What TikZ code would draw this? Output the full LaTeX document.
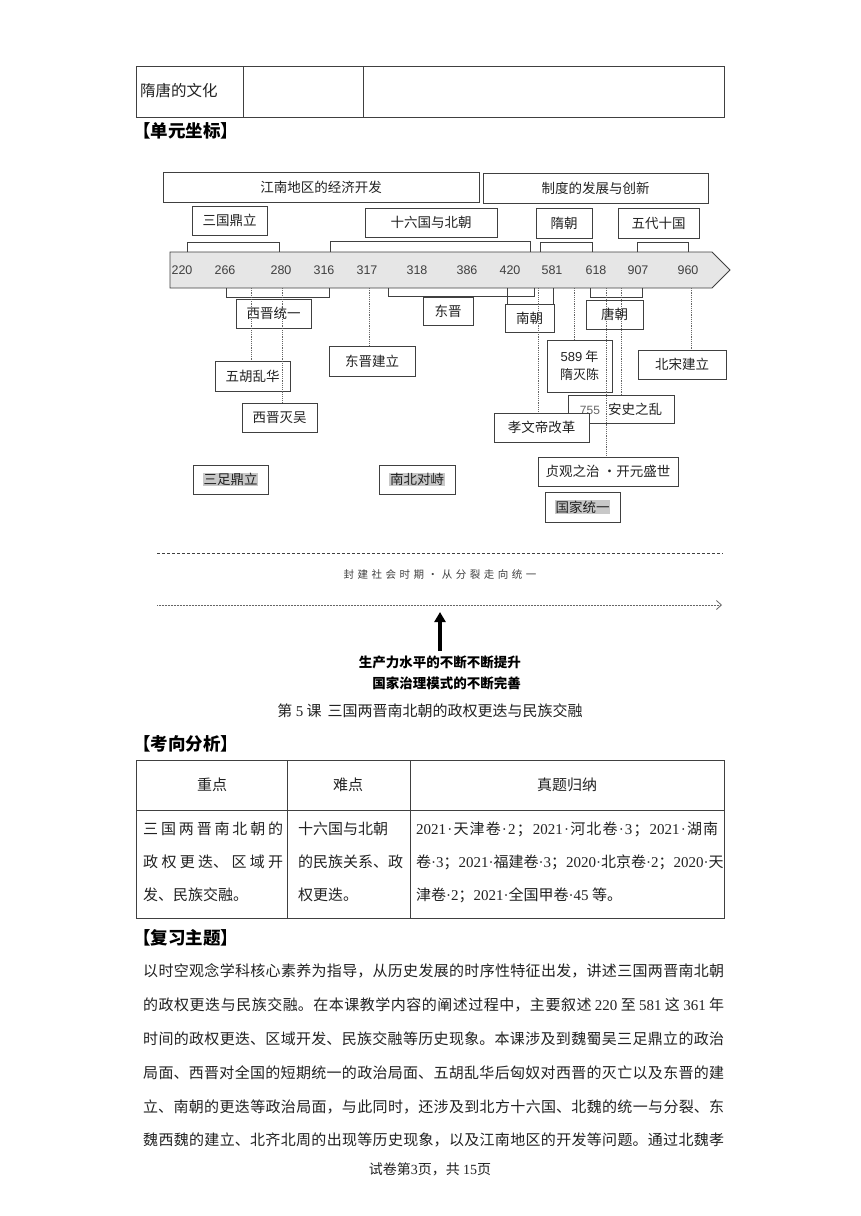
\documentclass[tikz,border=0pt]{standalone}
\usepackage{fontspec}
\setmainfont{Noto Sans CJK SC}
\newfontfamily\numsans{Liberation Sans}
\newfontfamily\numserif{Liberation Serif}
\usetikzlibrary{arrows.meta}
\XeTeXlinebreaklocale "zh"
\XeTeXlinebreakskip=0pt plus 1fil
\definecolor{edge}{HTML}{404040}
\definecolor{barfill}{HTML}{E6E6E6}
\definecolor{hl}{HTML}{C8C8C8}
\definecolor{txt}{HTML}{222222}
\definecolor{conncol}{HTML}{666666}
\newcommand\tn[1]{{\numserif #1}}
\newcommand\gl{\hskip 0pt plus 1fil\relax}
\newcommand\hlt[1]{{\setlength\fboxsep{0.6pt}\colorbox{hl}{#1}}}
\newcommand\jline[2]{\parbox{#1}{\parindent0pt\parfillskip0pt\tolerance10000\hbadness10000\relax #2\par}}
\newcommand\tlbox[6]{\node[tbox, minimum width={#4pt-#2pt}, minimum height={#5pt-#3pt}] (#1) at ({(#2+#4)/2},{(#3+#5)/2}) {#6};}
\begin{document}
\begin{tikzpicture}[x=1pt,y=-1pt,
  tbox/.style={draw=edge, line width=0.8pt, fill=white, inner sep=0pt, text=txt, font=\fontsize{13.5}{16}\selectfont},
  num/.style={inner sep=0pt, text=edge, font=\numsans\fontsize{12.5}{14}\selectfont},
  conn/.style={draw=conncol, line width=0.6pt, dash pattern=on 1.2pt off 1pt},
  brk/.style={draw=edge, line width=0.7pt},
  rule/.style={draw=edge, line width=0.8pt},
  body/.style={inner sep=0pt, text=txt, font=\fontsize{15}{18}\selectfont},
  head/.style={inner sep=0pt, anchor=west, text=black, font=\bfseries\fontsize{17.5}{20}\selectfont}]
\fill[white] (0,0) rectangle (860,1216);
\useasboundingbox (0,0) rectangle (860,1216);

% top table
\draw[rule, line width=1pt] (136,66) rectangle (724,117);
\draw[rule] (243,66) -- (243,117);
\draw[rule] (363,66) -- (363,117);
\node[body, anchor=west, font=\fontsize{15.5}{18}\selectfont] (sutang) at (140,91) {隋唐的文化};

\node[head] (h1) at (133,131) {【单元坐标】};

% timeline bar
\draw[draw=edge, fill=barfill, line width=0.8pt] (170,252) -- (712,252) -- (730,270) -- (712,288) -- (170,288) -- cycle;
\foreach \x/\v in {182/220,225/266,281/280,324/316,367/317,417/318,467/386,510/420,552/581,596/618,638/907,688/960}
  \node[num] at (\x,270) {\v};

% upper brackets
\draw[brk] (187,252) -- (187,242) -- (279,242) -- (279,252);
\draw[brk] (330,252) -- (330,241) -- (530,241) -- (530,252);
\draw[brk] (540,252) -- (540,242) -- (592,242) -- (592,252);
\draw[brk] (637,252) -- (637,242) -- (688,242) -- (688,252);
% lower brackets
\draw[brk] (226,288) -- (226,297) -- (329,297) -- (329,288);
\draw[brk] (388,288) -- (388,296) -- (534,296) -- (534,288);
\draw[brk] (590,288) -- (590,297) -- (642,297) -- (642,288);

% boxes
\tlbox{jn}{163}{172}{479}{202}{江南地区的经济开发}
\tlbox{zd}{483}{173}{708}{203}{制度的发展与创新}
\tlbox{sg}{192}{206}{267}{235}{三国鼎立}
\tlbox{sl}{365}{208}{497}{237}{十六国与北朝}
\tlbox{sui}{536}{208}{592}{238}{隋朝}
\tlbox{wd}{618}{208}{699}{238}{五代十国}
\tlbox{xjty}{236}{299}{311}{328}{西晋统一}
\tlbox{dj}{423}{297}{473}{325}{东晋}
\tlbox{nc}{505}{304}{554}{332}{南朝}
\tlbox{tc}{586}{300}{643}{329}{唐朝}
\draw[brk] (507,288) -- (nc.north -| 507,0);
\draw[brk] (553,288) -- (nc.north -| 553,0);
\tlbox{wh}{215}{361}{290}{391}{五胡乱华}
\tlbox{xjmw}{242}{403}{317}{432}{西晋灭吴}
\tlbox{djjl}{329}{346}{415}{376}{东晋建立}
\node[tbox, align=center, minimum width=65pt, minimum height=52pt, font=\fontsize{13}{18}\selectfont] (y589) at (579.5,366) {{\numsans 589} 年\\隋灭陈};
\tlbox{bs}{638}{350}{726}{379}{北宋建立}
\tlbox{as}{568}{395}{674}{423}{{\numsans\fontsize{12}{14}\selectfont\color{conncol}755}\hspace{8pt}安史之乱}
\tlbox{xw}{494}{413}{589}{442}{孝文帝改革}
\tlbox{zg}{538}{457}{678}{486}{贞观之治 ·开元盛世}
\tlbox{gj}{545}{492}{620}{522}{\hlt{国家统一}}
\tlbox{szdl}{193}{465}{268}{494}{\hlt{三足鼎立}}
\tlbox{nbdz}{379}{465}{455}{494}{\hlt{南北对峙}}

% dashed connectors
\coordinate (c1) at (251,288);
\coordinate (c2) at (282,288);
\coordinate (c3) at (369,288);
\coordinate (c4) at (538,288);
\coordinate (c5) at (574,288);
\coordinate (c6) at (606,288);
\coordinate (c7) at (621,288);
\coordinate (c8) at (691,288);
\draw[conn] (c1) -- (c1 |- wh.north);
\draw[conn] (c2) -- (c2 |- xjmw.north);
\draw[conn] (c3) -- (c3 |- djjl.north);
\draw[conn] (c4) -- (c4 |- xw.north);
\draw[conn] (c5) -- (c5 |- y589.north);
\draw[conn] (c6) -- (c6 |- zg.north);
\draw[conn] (c7) -- (c7 |- as.north);
\draw[conn] (c8) -- (c8 |- bs.north);

% lower overview
\draw[draw=edge, line width=0.6pt, dash pattern=on 3pt off 2pt] (157,553) -- (723,553);
\node[inner sep=0pt, text=edge, font=\fontsize{10.5}{12}\selectfont] (fj) at (440,575) {\jline{193pt}{封建社会时期·从分裂走向统一}};
\draw[draw=conncol, line width=0.9pt, dash pattern=on 1pt off 0.5pt, -{Straight Barb[length=5pt,width=9pt,line width=0.8pt]}] (157,605) -- (722,605);
\node[inner sep=0pt, anchor=east, font=\bfseries\fontsize{13.5}{16}\selectfont] (sc) at (521,662) {生产力水平的不断不断提升};
\node[inner sep=0pt, anchor=east, font=\bfseries\fontsize{13.5}{16}\selectfont] (gz) at (521,683) {国家治理模式的不断完善};
\coordinate (ab) at (440,651);
\coordinate (at) at (440,612);
\draw[line width=3.6pt, -{Triangle[length=10pt,width=11pt]}] (ab) -- (at);

\node[body] (cap) at (430,711) {第 \tn{5} 课\hspace{6pt}三国两晋南北朝的政权更迭与民族交融};

\node[head] (h2) at (133,744) {【考向分析】};

% table 2
\draw[rule] (136,760) rectangle (724,918);
\draw[rule] (136,810) -- (724,810);
\draw[rule] (287,760) -- (287,918);
\draw[rule] (410,760) -- (410,918);
\node[body] (t1) at (212,785) {重点};
\node[body] (t2) at (348,785) {难点};
\node[body] (t3) at (567,785) {真题归纳};
\node[body, anchor=west] (a1) at (143,829) {\jline{140pt}{三国两晋南北朝的}};
\node[body, anchor=west] (a2) at (143,862) {\jline{140pt}{政权更迭、区域开}};
\node[body, anchor=west] (a3) at (143,895) {发、民族交融。};
\node[body, anchor=west] (b1) at (298,829) {十六国与北朝};
\node[body, anchor=west] (b2) at (298,862) {的民族关系、政};
\node[body, anchor=west] (b3) at (298,895) {权更迭。};
\node[body, anchor=west] (d1) at (416,829) {\hbox to 302pt{\tn{2021}\gl\tn{·}\gl 天\gl 津\gl 卷\gl\tn{·}\gl\tn{2}\gl ；\gl\tn{2021}\gl\tn{·}\gl 河\gl 北\gl 卷\gl\tn{·}\gl\tn{3}\gl ；\gl\tn{2021}\gl\tn{·}\gl 湖\gl 南}};
\node[body, anchor=west] (d2) at (416,862) {\hbox to 302pt{卷\gl\tn{·}\gl\tn{3}\gl ；\gl\tn{2021}\gl\tn{·}\gl 福\gl 建\gl 卷\gl\tn{·}\gl\tn{3}\gl ；\gl\tn{2020}\gl\tn{·}\gl 北\gl 京\gl 卷\gl\tn{·}\gl\tn{2}\gl ；\gl\tn{2020}\gl\tn{·}\gl 天}};
\node[body, anchor=west] (d3) at (416,895) {津卷\tn{·2}；\tn{2021·}全国甲卷\tn{·45} 等。};

\node[head] (h3) at (133,938) {【复习主题】};

\node[body, anchor=west] (p1) at (143,971) {\jline{581pt}{以时空观念学科核心素养为指导，从历史发展的时序性特征出发，讲述三国两晋南北朝}};
\node[body, anchor=west] (p2) at (143,1005) {\jline{581pt}{的政权更迭与民族交融。在本课教学内容的阐述过程中，主要叙述 \tn{220} 至 \tn{581} 这 \tn{361} 年}};
\node[body, anchor=west] (p3) at (143,1039) {\jline{581pt}{时间的政权更迭、区域开发、民族交融等历史现象。本课涉及到魏蜀吴三足鼎立的政治}};
\node[body, anchor=west] (p4) at (143,1073) {\jline{581pt}{局面、西晋对全国的短期统一的政治局面、五胡乱华后匈奴对西晋的灭亡以及东晋的建}};
\node[body, anchor=west] (p5) at (143,1107) {\jline{581pt}{立、南朝的更迭等政治局面，与此同时，还涉及到北方十六国、北魏的统一与分裂、东}};
\node[body, anchor=west] (p6) at (143,1140) {\jline{581pt}{魏西魏的建立、北齐北周的出现等历史现象，以及江南地区的开发等问题。通过北魏孝}};
\node[body, font=\fontsize{14}{16}\selectfont] (foot) at (430,1169) {试卷第\tn{3}页，共 \tn{15}页};
\end{tikzpicture}
\end{document}
